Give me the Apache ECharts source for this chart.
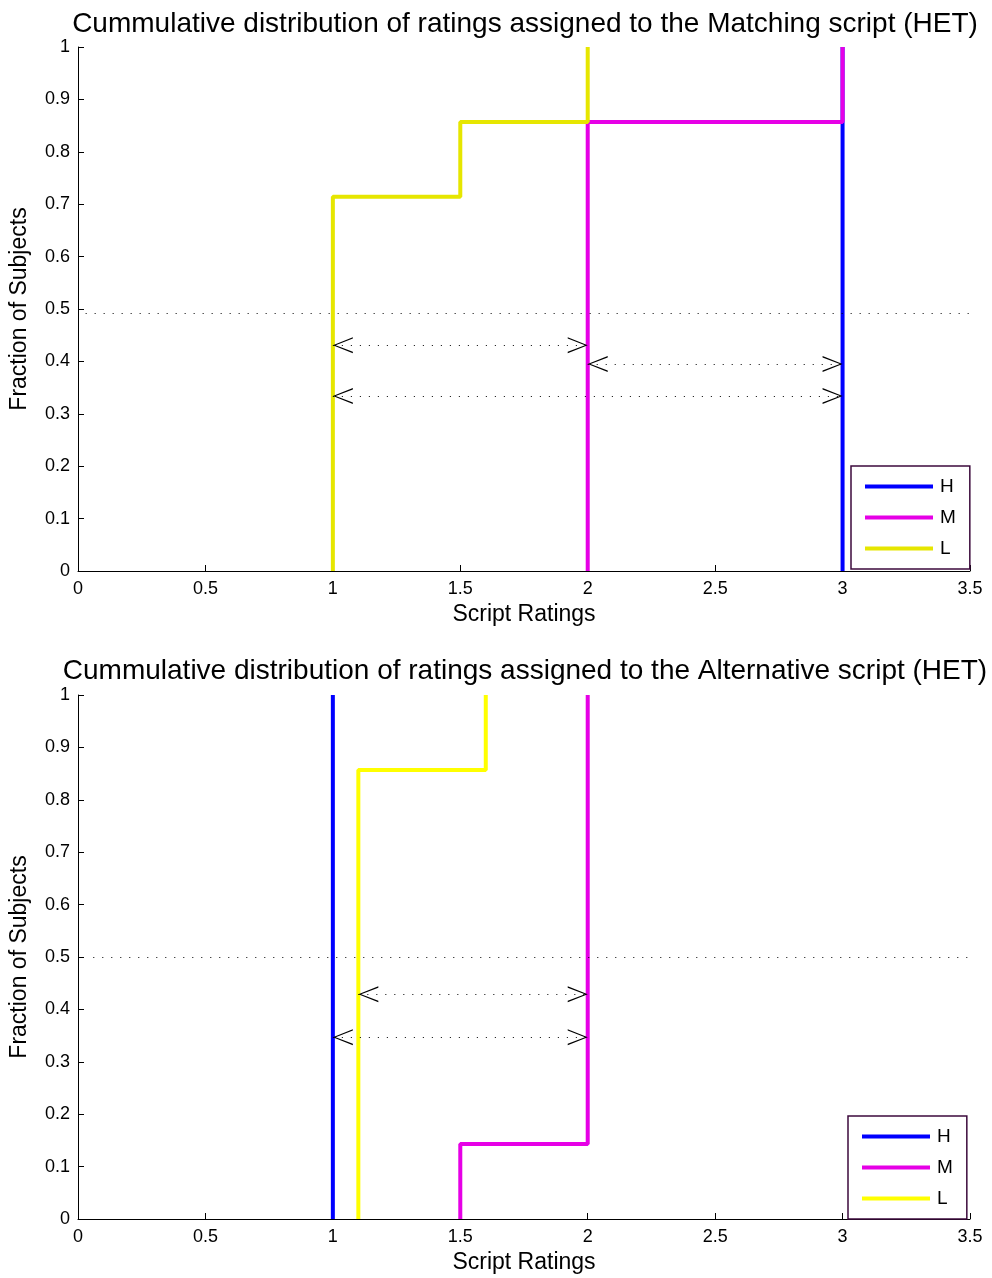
<!DOCTYPE html>
<html>
<head>
<meta charset="utf-8">
<script src="https://cdn.jsdelivr.net/npm/echarts@6/dist/echarts.min.js"></script>
<style>
  html, body { margin: 0; padding: 0; background: #fff; }
  #main { width: 992px; height: 1278px; }
</style>
</head>
<body>
<div id="main"></div>
<script>
// stairs data (x = rating, y = cumulative fraction)
var topH_x = [3, 3];
var topH_y = [0, 1];
var topM_x = [2, 2, 3];
var topM_y = [0, 0.857, 1];
var topL_x = [1, 1, 1.5, 2];
var topL_y = [0, 0.714, 0.857, 1];

var botH_x = [1, 1];
var botH_y = [0, 1];
var botM_x = [1.5, 1.5, 2];
var botM_y = [0, 0.143, 1];
var botL_x = [1.1, 1.1, 1.6];
var botL_y = [0, 0.857, 1];

// median line + double arrows  [x1, x2, y]
var topMedian = [0.03, 3.5, 0.492];
var topArrows = [[1, 2, 0.431], [2, 3, 0.395], [1, 3, 0.334]];
var botMedian = [0.06, 3.5, 0.5];
var botArrows = [[1.1, 2, 0.429], [1, 2, 0.347]];

var titles = [
  'Cummulative distribution of ratings assigned to the Matching script (HET)',
  'Cummulative distribution of ratings assigned to the Alternative script (HET)'
];
var seriesNames = ['H', 'M', 'L'];

var FONT = 'Liberation Sans, Arial, sans-serif';
var BLUE = '#0000ff', MAGENTA = '#e600e6', YEL1 = '#e6e600', YEL2 = '#ffff00';

// chevron pointing up, apex at symbol centre
var ARROW = 'path://M50,-100 L50,-100 M50,0 L100,100 L91,100 L50,14 L9,100 L0,100 Z';

function zip(xs, ys) {
  return xs.map(function (x, i) { return [x, ys[i]]; });
}

function marks(median, arrows) {
  var d = [[
    { coord: [median[0], median[2]], symbol: 'none' },
    { coord: [median[1], median[2]], symbol: 'none' }
  ]];
  arrows.forEach(function (a) {
    d.push([
      { coord: [a[0], a[2]], symbol: ARROW, symbolSize: [16, 40] },
      { coord: [a[1], a[2]], symbol: ARROW, symbolSize: [16, 40] }
    ]);
  });
  return {
    silent: true,
    animation: false,
    label: { show: false },
    emphasis: { disabled: true },
    lineStyle: { color: '#000', width: 1, type: [1, 8] },
    itemStyle: { color: '#000' },
    data: d
  };
}

function stair(name, idx, xs, ys, color, mk) {
  var s = {
    name: name,
    type: 'line',
    step: 'end',
    xAxisIndex: idx,
    yAxisIndex: idx,
    data: zip(xs, ys),
    showSymbol: false,
    symbol: 'none',
    color: color,
    itemStyle: { color: color },
    lineStyle: { color: color, width: 4 },
    animation: false,
    silent: true
  };
  if (mk) s.markLine = mk;
  return s;
}

function xAx(idx) {
  return {
    type: 'value', gridIndex: idx, min: 0, max: 3.5, interval: 0.5,
    name: 'Script Ratings', nameLocation: 'middle', nameGap: 32,
    nameTextStyle: { color: '#000', fontSize: 23, fontFamily: FONT },
    axisLine: { lineStyle: { color: '#000', width: 1 } },
    axisTick: { inside: true, length: 6, lineStyle: { color: '#000' } },
    axisLabel: { color: '#000', fontSize: 18, fontFamily: FONT, margin: 9 },
    splitLine: { show: false }
  };
}

function yAx(idx) {
  return {
    type: 'value', gridIndex: idx, min: 0, max: 1, interval: 0.1,
    name: 'Fraction of Subjects', nameLocation: 'middle', nameGap: 47,
    nameTextStyle: { color: '#000', fontSize: 23, fontFamily: FONT },
    axisLine: { lineStyle: { color: '#000', width: 1 } },
    axisTick: { inside: true, length: 6, lineStyle: { color: '#000' } },
    axisLabel: { color: '#000', fontSize: 18, fontFamily: FONT, margin: 8 },
    splitLine: { show: false }
  };
}

function legend(left, top, yellow) {
  return {
    left: left, top: top, orient: 'vertical',
    icon: 'rect', itemWidth: 68, itemHeight: 4, itemGap: 12,
    padding: [11, 14, 11, 14],
    borderColor: '#3c0a3c', borderWidth: 1.5, backgroundColor: '#fff',
    selectedMode: false,
    textStyle: { color: '#000', fontSize: 19, fontFamily: FONT, lineHeight: 19, padding: [0, 0, 0, 2] },
    data: [
      { name: seriesNames[0], itemStyle: { color: BLUE } },
      { name: seriesNames[1], itemStyle: { color: MAGENTA } },
      { name: seriesNames[2], itemStyle: { color: yellow } }
    ]
  };
}

var myChart = echarts.init(document.getElementById('main'), null, { renderer: 'canvas' });

option = {
  backgroundColor: '#fff',
  animation: false,
  title: [
    { text: titles[0], left: 520, top: 5, textAlign: 'center',
      textStyle: { color: '#000', fontSize: 28, fontWeight: 'normal', fontFamily: FONT } },
    { text: titles[1], left: 520, top: 652, textAlign: 'center',
      textStyle: { color: '#000', fontSize: 28, fontWeight: 'normal', fontFamily: FONT } }
  ],
  legend: [legend(851, 466, YEL1), legend(848, 1116, YEL2)],
  grid: [
    { left: 78, top: 47, width: 892, height: 524 },
    { left: 78, top: 695, width: 892, height: 524 }
  ],
  xAxis: [xAx(0), xAx(1)],
  yAxis: [yAx(0), yAx(1)],
  series: [
    stair('H', 0, topH_x, topH_y, BLUE, marks(topMedian, topArrows)),
    stair('M', 0, topM_x, topM_y, MAGENTA),
    stair('L', 0, topL_x, topL_y, YEL1),
    stair('H', 1, botH_x, botH_y, BLUE, marks(botMedian, botArrows)),
    stair('M', 1, botM_x, botM_y, MAGENTA),
    stair('L', 1, botL_x, botL_y, YEL2)
  ]
};
myChart.setOption(option);
</script>
</body>
</html>
